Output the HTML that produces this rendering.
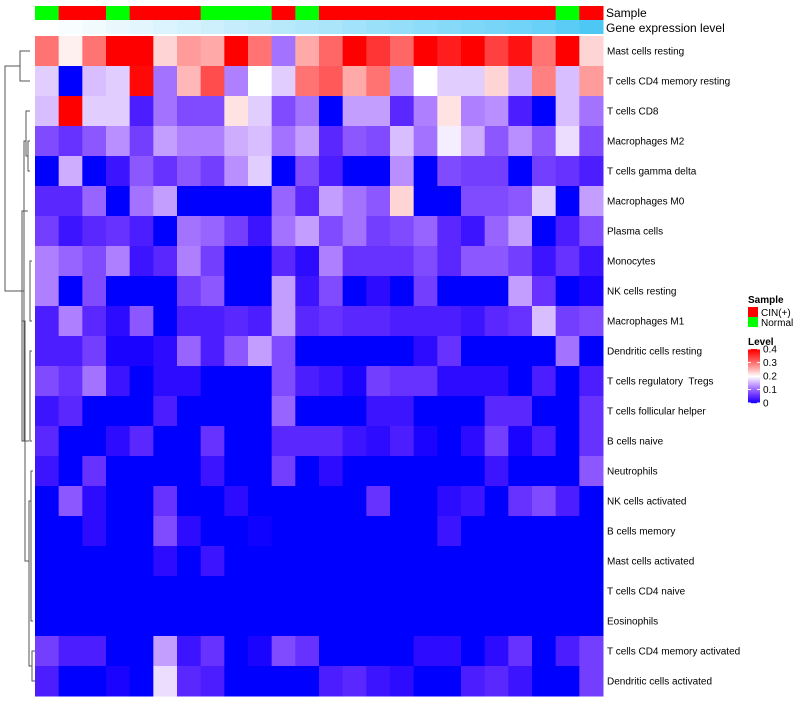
<!DOCTYPE html>
<html><head><meta charset="utf-8"><style>
body{margin:0;background:#fff;font-family:"Liberation Sans",sans-serif}
svg text{font-family:"Liberation Sans",sans-serif}
</style></head><body>
<svg id="chart" width="800" height="700" xmlns="http://www.w3.org/2000/svg"></svg>
<script>
const rowNames=["Mast cells resting","T cells CD4 memory resting","T cells CD8","Macrophages M2","T cells gamma delta","Macrophages M0","Plasma cells","Monocytes","NK cells resting","Macrophages M1","Dendritic cells resting","T cells regulatory  Tregs","T cells follicular helper","B cells naive","Neutrophils","NK cells activated","B cells memory","Mast cells activated","T cells CD4 naive","Eosinophils","T cells CD4 memory activated","Dendritic cells activated"];
const sampleGroups=["Normal","CIN(+)","CIN(+)","Normal","CIN(+)","CIN(+)","CIN(+)","Normal","Normal","Normal","CIN(+)","Normal","CIN(+)","CIN(+)","CIN(+)","CIN(+)","CIN(+)","CIN(+)","CIN(+)","CIN(+)","CIN(+)","CIN(+)","Normal","CIN(+)"];
const geneLevel=[0,0.04,0.08,0.12,0.16,0.2,0.24,0.28,0.32,0.36,0.4,0.44,0.48,0.52,0.56,0.6,0.64,0.68,0.72,0.76,0.8,0.84,0.92,1];
const r1=[0.3,0.21,0.3,0.4,0.4,0.23,0.27,0.26,0.4,0.3,0.11,0.26,0.31,0.4,0.35,0.31,0.4,0.37,0.4,0.34,0.38,0.3,0.4,0.23];
const r2=[0.17,0,0.16,0.17,0.39,0.11,0.25,0.33,0.12,0.2,0.17,0.3,0.32,0.26,0.3,0.13,0.2,0.17,0.17,0.23,0.15,0.29,0.16,0.27];
const r3=[0.16,0.4,0.17,0.17,0.04,0.11,0.08,0.08,0.22,0.17,0.08,0.11,0,0.14,0.14,0.05,0.12,0.22,0.12,0.13,0.04,0,0.16,0.11];
const r4=[0.08,0.06,0.09,0.13,0.07,0.14,0.12,0.12,0.15,0.16,0.11,0.14,0.05,0.09,0.08,0.16,0.11,0.19,0.15,0.09,0.13,0.09,0.18,0.08];
const r5=[0,0.15,0,0.03,0.09,0.06,0.09,0.07,0.13,0.17,0,0.08,0.04,0,0,0.13,0,0.08,0.07,0.07,0,0.07,0.06,0.04];
const r6=[0.05,0.05,0.1,0,0.11,0.14,0,0,0,0,0.1,0.05,0.14,0.11,0.09,0.23,0,0,0.08,0.08,0.09,0.17,0,0.14];
const r7=[0.07,0.03,0.05,0.06,0.04,0,0.11,0.1,0.07,0.03,0.11,0.14,0.08,0.11,0.07,0.08,0.1,0.05,0.03,0.1,0.14,0,0.04,0.08];
const r8=[0.12,0.1,0.08,0.12,0.03,0.05,0.12,0.07,0,0,0.05,0.02,0.12,0.06,0.06,0.06,0.08,0.05,0.09,0.09,0.07,0.03,0.06,0.03];
const r9=[0.12,0,0.08,0,0,0,0.07,0.09,0,0,0.14,0.03,0.08,0,0.02,0,0.07,0,0,0,0.14,0.06,0,0.01];
const r10=[0.04,0.12,0.05,0.02,0.09,0,0.04,0.04,0.05,0.04,0.14,0.05,0.06,0.05,0.05,0.04,0.04,0.04,0.03,0.05,0.06,0.16,0.07,0.08];
const r11=[0.04,0.04,0.07,0.01,0.01,0.02,0.1,0.04,0.09,0.14,0.08,0,0,0,0,0,0.02,0.06,0,0,0,0,0.11,0];
const r12=[0.08,0.06,0.11,0.03,0,0.02,0.02,0,0,0,0.08,0.04,0.03,0.01,0.07,0.06,0.06,0.02,0.02,0.02,0,0.04,0,0.04];
const r13=[0.03,0.05,0,0,0,0.04,0,0,0,0,0.1,0,0,0,0.03,0.03,0,0,0,0.05,0.05,0,0,0.06];
const r14=[0.05,0,0,0.02,0.05,0,0,0.06,0,0,0.05,0.05,0.05,0.03,0.02,0.04,0.01,0,0.02,0.07,0.01,0.04,0,0.06];
const r15=[0.03,0,0.06,0,0,0,0,0.03,0,0,0.07,0,0.02,0,0,0,0,0,0,0.03,0,0,0,0.09];
const r16=[0,0.09,0.02,0,0,0.06,0,0,0.02,0,0,0,0,0,0.06,0,0,0.02,0.03,0,0.06,0.08,0.04,0];
const r17=[0,0,0.02,0,0,0.08,0.02,0,0,0.005,0,0,0,0,0,0,0,0.03,0,0,0,0,0,0];
const r18=[0,0,0,0,0,0.02,0,0.03,0,0,0,0,0,0,0,0,0,0,0,0,0,0,0,0];
const r19=[0,0,0,0,0,0,0,0,0,0,0,0,0,0,0,0,0,0,0,0,0,0,0,0];
const r20=[0,0,0,0,0,0,0,0,0,0,0,0,0,0,0,0,0,0,0,0,0,0,0,0];
const r21=[0.07,0.04,0.04,0,0,0.14,0.03,0.06,0,0.01,0.08,0.06,0,0,0,0,0.02,0.02,0,0.02,0.06,0,0.04,0.07];
const r22=[0.04,0,0,0.01,0,0.18,0.05,0.04,0,0,0,0,0.04,0.05,0.03,0.02,0,0,0.04,0.05,0.03,0,0,0.07];
const values=[r1,r2,r3,r4,r5,r6,r7,r8,r9,r10,r11,r12,r13,r14,r15,r16,r17,r18,r19,r20,r21,r22];
const legendTicks=["0","0.1","0.2","0.3","0.4"];

const NS="http://www.w3.org/2000/svg";
const svg=document.getElementById('chart');
const X0=35,X1=603,Y0=36,RH=30,NC=24;
const CW=(X1-X0)/NC;
const xs=i=>X0+i*CW, ys=j=>Y0+j*RH;
function col(v){
  if(v<=0.2){const t=Math.max(0,v)/0.2;return `rgb(${Math.round(255*Math.pow(t,0.75))},${Math.round(255*Math.pow(t,1.35))},255)`;}
  const t=Math.min(1,(v-0.2)/0.2);const g=Math.round(255*Math.pow(1-t,1.15));return `rgb(255,${g},${g})`;
}
function el(tag,attrs,parent){const e=document.createElementNS(NS,tag);for(const k in attrs)e.setAttribute(k,attrs[k]);(parent||svg).appendChild(e);return e;}
function gcol(t){const r=Math.round(255+(77-255)*t),g=Math.round(255+(200-255)*t),b=Math.round(255+(245-255)*t);return `rgb(${r},${g},${b})`;}

sampleGroups.forEach((s,i)=>{
  const r=el('rect',{x:xs(i),y:6,width:CW+0.5,height:14,fill:s==="Normal"?"#00ff00":"#ff0000"});
  
  
});
geneLevel.forEach((g,i)=>{
  const r=el('rect',{x:xs(i),y:20,width:CW+0.5,height:14,fill:gcol(g)});
  
  
});
let t=el('text',{x:606,y:17,'font-size':12,fill:'#000'});t.textContent="Sample";


t=el('text',{x:606,y:32,'font-size':12,fill:'#000'});t.textContent="Gene expression level";



values.forEach((row,j)=>{
  row.forEach((v,i)=>{
    const r=el('rect',{x:xs(i),y:ys(j),width:CW+0.5,height:RH+0.5,fill:col(v)});
    
    
  });
  const tx=el('text',{x:607,y:ys(j)+RH/2+3.5,'font-size':10,fill:'#000',style:'white-space:pre'});
  tx.textContent=rowNames[j];
  
  
});

const dg=el('g',{stroke:'#555','stroke-width':1,fill:'none'});


const cy=j=>ys(j)+RH/2;
function br(x,ya,yb,xa,xb){el('path',{d:`M${xa},${ya}H${x}V${yb}H${xb}`},dg);}
br(20,cy(0),cy(1),30,30);
br(26,cy(2),cy(4)-15,30,28);
br(28,cy(3),cy(4),30,30);
br(22,cy(6)-20,cy(13),28,29);
br(30,cy(7),cy(9),32,32);
br(30,cy(10),cy(13),32,32);
br(31,cy(14),cy(19),33,33);
br(32,cy(20),cy(21),35,35);
br(29,cy(15),cy(20.5),31,32);
br(25,cy(9),cy(17),22,29);
br(24,cy(3),cy(13),26,25);
br(5,cy(0.5),cy(8),20,24);

const lg=el('g',{});


t=el('text',{x:748,y:303,'font-size':10,'font-weight':'bold'},lg);t.textContent="Sample";


[["CIN(+)","#ff0000"],["Normal","#00ff00"]].forEach((e,k)=>{
  const r=el('rect',{x:748,y:307+k*10,width:10,height:10,fill:e[1]},lg);
  
  
  const tt=el('text',{x:761,y:316+k*10,'font-size':10},lg);tt.textContent=e[0];
  
  
});
t=el('text',{x:748,y:345,'font-size':10,'font-weight':'bold'},lg);t.textContent="Level";


const LB0=349,LB1=403;
for(let k=0;k<54;k++){
  const v=0.4*(1-k/54);
  el('rect',{x:748,y:LB0+k,width:12,height:1.2,fill:col(v)},lg);
}
legendTicks.forEach((s,k)=>{
  const y=LB1-(parseFloat(s)/0.4)*(LB1-LB0);
  el('line',{x1:748,x2:751,y1:y,y2:y,stroke:'#fff'},lg);
  el('line',{x1:757,x2:760,y1:y,y2:y,stroke:'#fff'},lg);
  const tt=el('text',{x:763,y:y+3.5,'font-size':10},lg);tt.textContent=s;
  
  
});
</script>
</body></html>
